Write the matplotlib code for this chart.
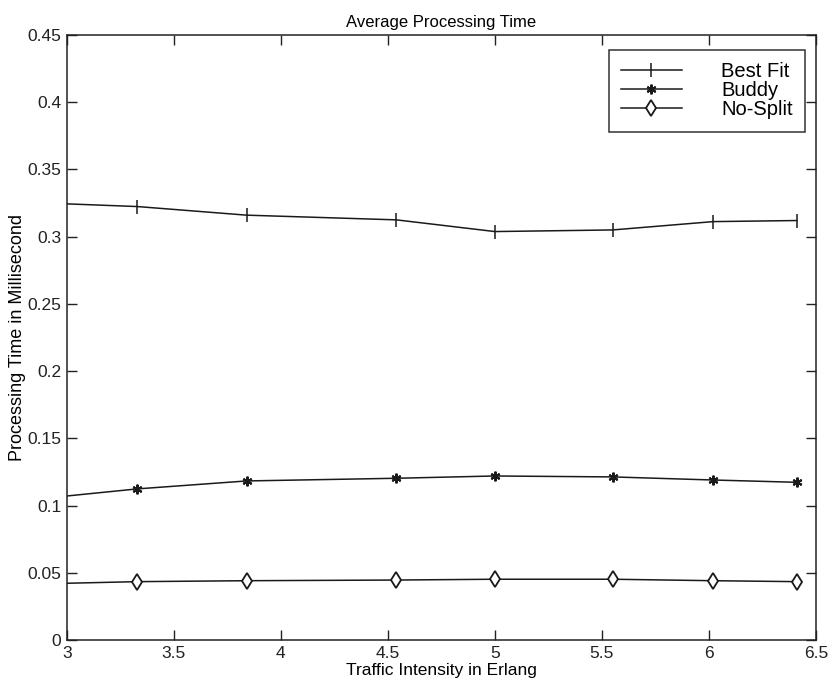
import matplotlib
matplotlib.use("Agg")
import matplotlib.pyplot as plt


# data
traffic = [3.0, 3.33, 3.84, 4.54, 5.0, 5.55, 6.02, 6.41]
best_fit = [0.3244, 0.3224, 0.3160, 0.3125, 0.3038, 0.3050, 0.3112, 0.3120]
buddy = [0.1071, 0.1124, 0.1183, 0.1203, 0.1220, 0.1213, 0.1190, 0.1173]
no_split = [0.0422, 0.0434, 0.0441, 0.0446, 0.0452, 0.0452, 0.0441, 0.0434]

series_names = ["Best Fit", "Buddy", "No-Split"]
x_ticks = [3, 3.5, 4, 4.5, 5, 5.5, 6, 6.5]
y_ticks = [0, 0.05, 0.1, 0.15, 0.2, 0.25, 0.3, 0.35, 0.4, 0.45]

FONT = ["Liberation Sans", "DejaVu Sans"]

# figure 831 x 688 px
W, H = 831, 688
fig = plt.figure(figsize=(W / 100, H / 100), dpi=100)
left, right, top, bottom = 66.7, 816, 35, 640
ax = fig.add_axes([left / W, 1 - bottom / H, (right - left) / W, (bottom - top) / H])

# first point sits on the y axis without a marker in the original
marks = list(range(1, len(traffic)))
LINE = dict(color="#1a1a1a", linewidth=1.1, markevery=marks)
ax.plot(traffic, best_fit, marker="|", markersize=10, markeredgewidth=1.1,
        label=series_names[0], **LINE)
ax.plot(traffic, buddy, marker=(6, 2, 0), markersize=7, markeredgewidth=1.5,
        label=series_names[1], **LINE)
ax.plot(traffic, no_split, marker="d", markersize=8, markeredgewidth=1.3,
        markerfacecolor="white", markeredgecolor="#1a1a1a",
        label=series_names[2], **LINE)

ax.set_xlim(3, 6.5)
ax.set_ylim(0, 0.45)
ax.set_xticks(x_ticks)
ax.set_xticklabels([f"{t:g}" for t in x_ticks])
ax.set_yticks(y_ticks)
ax.set_yticklabels([f"{t:g}" for t in y_ticks])

ax.tick_params(direction="in", length=7, width=1, top=True, right=True,
               labelsize=12.5, colors="#222222", pad=4)
for lab in ax.get_xticklabels() + ax.get_yticklabels():
    lab.set_family(FONT)
for sp in ax.spines.values():
    sp.set_linewidth(1.1)
    sp.set_color("#222222")

ax.set_title("Average Processing Time", family=FONT, fontsize=12, pad=6)
ax.set_xlabel("Traffic Intensity in Erlang", family=FONT, fontsize=12.5,
              labelpad=2)
ax.set_ylabel("Processing Time in Millisecond", family=FONT, fontsize=13,
              labelpad=1)

leg = ax.legend(loc="upper right", bbox_to_anchor=((805 - left) / (right - left),
                (bottom - 50) / (bottom - top)),
                prop={"family": FONT, "size": 14.5}, frameon=True,
                fancybox=False, edgecolor="black", handlelength=3.0,
                handletextpad=1.95, labelspacing=0.0, borderpad=0.62,
                borderaxespad=0)
leg.get_frame().set_linewidth(1.1)

fig.savefig("out.png", dpi=100, facecolor="white")
